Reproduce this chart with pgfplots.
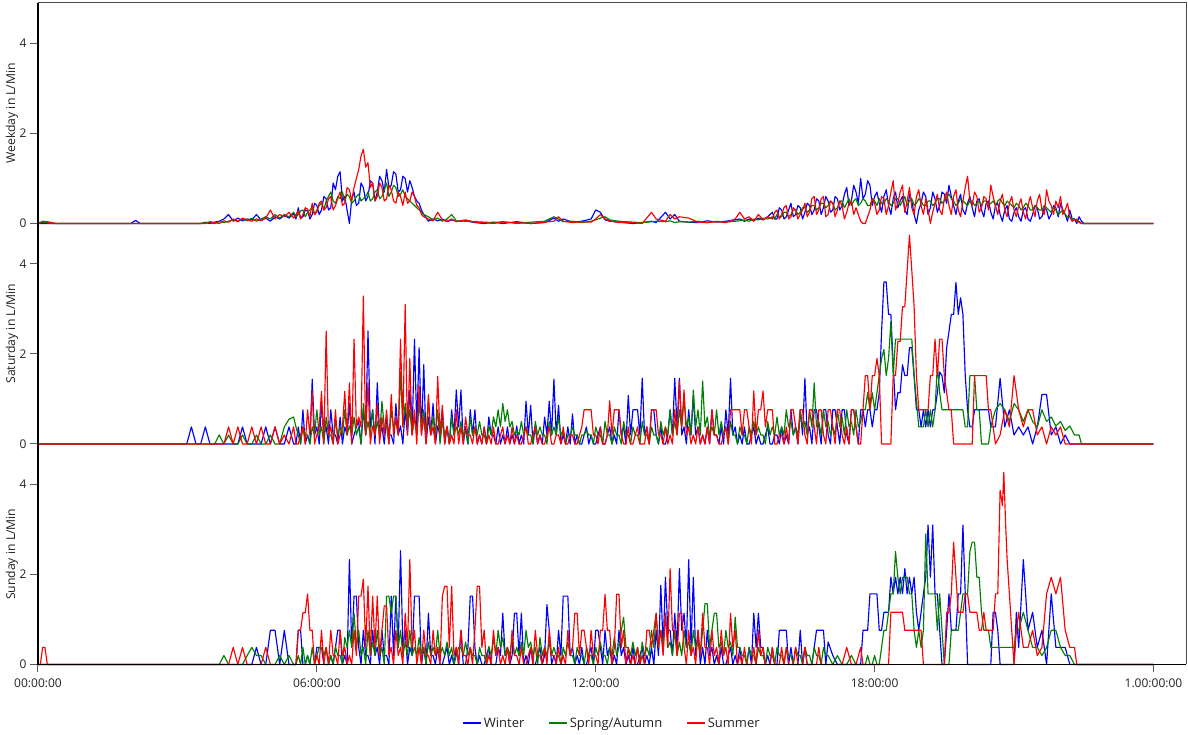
\documentclass[border=0pt]{standalone}
\usepackage{fontspec}
\setmainfont{Open Sans}
\usepackage{pgfplots}
\usepackage{pgfplotstable}
\pgfplotsset{compat=1.18}
\usepgfplotslibrary{groupplots}

\definecolor{winter}{RGB}{0,0,255}
\definecolor{spring}{RGB}{0,128,0}
\definecolor{summer}{RGB}{255,0,0}
\definecolor{txt}{RGB}{34,34,34}

% t = hour of day, w = winter, s = spring/autumn, u = summer (L/min)
\pgfplotstableread{
t w s u
0 0 0 0
0.1 0 0.03 0.05
0.2 0 0.02 0.04
0.3 0 0 0.02
0.4 0 0 0
2.0 0 0 0
2.1 0.07 0 0
2.2 0 0 0
3.5 0 0 0
3.6 0.02 0.03 0
3.7 0 0.02 0.04
3.8 0.03 0 0.02
3.9 0.05 0.04 0
4.0 0.1 0.02 0.06
4.1 0.2 0.05 0.03
4.2 0.05 0.08 0.1
4.3 0.12 0.04 0.05
4.4 0.06 0.1 0.12
4.5 0.1 0.06 0.08
4.6 0.08 0.12 0.05
4.7 0.2 0.05 0.1
4.8 0.07 0.1 0.06
4.9 0.12 0.15 0.12
5.0 0.05 0.1 0.3
5.1 0.15 0.2 0.1
5.2 0.1 0.12 0.2
5.3 0.18 0.2 0.15
5.4 0.12 0.15 0.25
5.5 0.22 0.25 0.12
5.55 0.1 0.15 0.2
5.6 0.35 0.2 0.28
5.65 0.12 0.28 0.1
5.7 0.15 0.3 0.2
5.75 0.3 0.15 0.35
5.8 0.28 0.25 0.32
5.85 0.1 0.3 0.15
5.9 0.2 0.35 0.45
5.95 0.45 0.2 0.2
6.0 0.4 0.3 0.25
6.05 0.2 0.4 0.45
6.1 0.3 0.45 0.5
6.15 0.6 0.3 0.3
6.2 0.55 0.5 0.35
6.25 0.3 0.6 0.55
6.3 0.35 0.7 0.6
6.35 0.9 0.5 0.3
6.4 0.75 0.45 0.4
6.45 1.05 0.6 0.55
6.5 1.15 0.55 0.7
6.55 0.5 0.7 0.4
6.6 0.6 0.5 0.45
6.65 0.3 0.65 0.8
6.7 0 0.6 0.75
6.75 0.55 0.45 0.5
6.8 0.7 0.5 0.8
6.85 0.4 0.6 1.0
6.9 0.45 0.65 1.2
6.95 0.9 0.5 1.5
7.0 0.8 0.55 1.65
7.05 0.5 0.6 1.25
7.1 0.6 0.7 1.35
7.15 0.95 0.5 0.8
7.2 0.9 0.55 0.9
7.25 0.5 0.7 0.5
7.3 0.7 0.75 0.6
7.35 1.05 0.55 0.9
7.4 0.95 0.6 0.8
7.45 0.7 0.75 0.5
7.5 1.2 0.9 0.55
7.55 0.8 0.6 0.85
7.6 0.85 0.7 0.75
7.65 1.15 0.85 0.5
7.7 1.1 0.8 0.45
7.75 0.7 0.6 0.7
7.8 0.75 0.65 0.6
7.85 1.05 0.75 0.4
7.9 1.0 0.6 0.7
7.95 0.7 0.55 0.45
8.0 0.95 0.5 0.5
8.05 0.8 0.45 0.7
8.1 0.6 0.4 0.6
8.15 0.5 0.35 0.4
8.2 0.45 0.3 0.35
8.25 0.3 0.25 0.2
8.3 0.2 0.2 0.15
8.4 0.05 0.15 0.1
8.5 0.1 0.08 0.06
8.6 0.06 0.12 0.25
8.7 0.1 0.05 0.08
8.8 0.04 0.1 0.05
8.9 0.08 0.2 0.1
9.0 0.05 0.06 0.04
9.2 0.06 0.05 0.08
9.4 0.02 0.04 0.03
9.6 0 0.03 0.02
9.8 0.03 0.02 0
10.0 0 0.04 0.03
10.3 0.04 0 0.02
10.6 0 0.03 0
10.9 0.02 0.05 0.03
11.1 0.12 0.15 0.05
11.2 0.05 0.1 0.15
11.3 0.1 0.04 0.05
11.5 0.03 0.05 0.02
11.7 0.05 0.02 0.04
11.9 0.1 0.05 0.03
12.0 0.3 0.08 0.1
12.1 0.25 0.12 0.2
12.2 0.08 0.15 0.1
12.3 0.05 0.08 0.06
12.5 0.03 0.05 0.02
12.8 0 0.03 0.02
13.0 0.02 0.02 0
13.2 0.05 0.04 0.25
13.3 0.02 0.05 0.1
13.5 0.25 0.04 0.05
13.6 0.1 0.06 0.2
13.7 0.2 0.02 0.1
13.8 0.05 0.04 0.15
14.0 0.03 0.03 0.12
14.2 0.02 0.05 0.03
14.4 0.06 0.02 0.02
14.6 0.03 0.05 0.04
14.8 0.05 0.03 0.02
15.0 0.08 0.05 0.1
15.1 0.1 0.06 0.25
15.2 0.05 0.08 0.1
15.3 0.1 0.05 0.15
15.4 0.06 0.1 0.05
15.5 0.12 0.08 0.2
15.6 0.08 0.12 0.08
15.7 0.15 0.1 0.15
15.8 0.25 0.15 0.1
15.85 0.1 0.1 0.25
15.9 0.1 0.2 0.3
15.95 0.35 0.15 0.1
16.0 0.3 0.15 0.2
16.05 0.1 0.25 0.35
16.1 0.15 0.25 0.4
16.15 0.3 0.15 0.1
16.2 0.45 0.2 0.15
16.25 0.15 0.3 0.35
16.3 0.2 0.3 0.3
16.35 0.4 0.2 0.1
16.4 0.35 0.25 0.2
16.45 0.1 0.35 0.3
16.5 0.25 0.35 0.45
16.55 0.45 0.25 0.15
16.6 0.4 0.3 0.25
16.65 0.2 0.4 0.55
16.7 0.3 0.4 0.6
16.75 0.55 0.3 0.2
16.8 0.5 0.35 0.3
16.85 0.2 0.45 0.55
16.9 0.35 0.45 0.6
16.95 0.6 0.35 0.15
17.0 0.5 0.4 0.2
17.05 0.25 0.5 0.5
17.1 0.3 0.45 0.45
17.15 0.6 0.3 0.15
17.2 0.55 0.35 0.3
17.25 0.3 0.5 0.5
17.3 0.4 0.5 0.4
17.35 0.65 0.35 0.1
17.4 0.8 0.45 0.25
17.45 0.4 0.55 0.45
17.5 0.5 0.4 0.5
17.55 0.85 0.5 0.2
17.6 0.7 0.55 0.35
17.65 0.45 0.4 0.2
17.7 1.0 0.45 0.05
17.75 0.55 0.55 0
17.8 0.65 0.5 0
17.85 0.95 0.4 0.15
17.9 0.85 0.4 0.3
17.95 0.4 0.55 0.55
18.0 0.6 0.5 0.45
18.05 0.7 0.4 0.2
18.1 0.45 0.55 0.3
18.15 0.25 0.45 0.6
18.2 0.6 0.45 0.55
18.25 0.75 0.55 0.2
18.3 0.4 0.5 0.4
18.35 0.2 0.4 0.7
18.4 0.55 0.45 0.95
18.45 0.7 0.55 0.3
18.5 0.35 0.55 0.45
18.55 0.5 0.4 0.7
18.6 0.6 0.5 0.85
18.65 0.3 0.6 0.25
18.7 0.2 0.4 0.5
18.75 0.65 0.5 0.8
18.8 0.5 0.55 0.35
18.85 0.2 0.4 0.2
18.9 0 0.45 0.6
18.95 0.3 0.55 0.75
19.0 0.45 0.5 0.4
19.05 0.7 0.4 0.2
19.1 0.6 0.4 0.55
19.15 0.2 0.5 0.3
19.2 0.35 0.5 0
19.25 0.7 0.4 0.25
19.3 0.55 0.45 0.45
19.35 0.25 0.55 0.65
19.4 0.4 0.55 0.3
19.45 0.7 0.45 0.2
19.5 0.65 0.5 0.55
19.55 0.45 0.6 0.7
19.6 0.85 0.65 0.4
19.65 0.6 0.55 0.2
19.7 0.4 0.5 0.6
19.75 0.2 0.4 0.75
19.8 0.5 0.45 0.3
19.85 0.65 0.55 0.15
19.9 0.3 0.5 0.5
19.95 0.2 0.45 0.8
20.0 0.45 0.4 1.05
20.05 0.6 0.5 0.5
20.1 0.35 0.5 0.4
20.15 0.15 0.4 0.7
20.2 0.5 0.45 0.6
20.25 0.55 0.5 0.25
20.3 0.3 0.4 0.35
20.35 0.15 0.5 0.6
20.4 0.45 0.5 0.55
20.45 0.5 0.4 0.3
20.5 0.25 0.45 0.85
20.55 0.1 0.5 0.6
20.6 0.4 0.4 0.4
20.65 0.45 0.5 0.2
20.7 0.2 0.55 0.5
20.75 0.05 0.45 0.65
20.8 0.3 0.4 0.3
20.85 0.4 0.5 0.15
20.9 0.1 0.45 0.45
20.95 0.05 0.4 0.6
21.0 0.25 0.35 0.3
21.05 0.35 0.45 0.15
21.1 0.15 0.4 0.4
21.15 0.05 0.3 0.55
21.2 0.3 0.35 0.25
21.25 0.35 0.45 0.1
21.3 0.1 0.4 0.4
21.35 0.05 0.3 0.6
21.4 0.2 0.3 0.35
21.45 0.4 0.4 0.15
21.5 0.35 0.35 0.5
21.55 0.1 0.3 0.65
21.6 0.15 0.3 0.3
21.65 0.35 0.4 0.2
21.7 0.3 0.35 0.75
21.75 0.1 0.3 0.5
21.8 0.2 0.25 0.4
21.85 0.4 0.35 0.2
21.9 0.35 0.3 0.5
21.95 0.15 0.2 0.35
22.0 0.45 0.25 0.6
22.05 0.3 0.3 0.2
22.1 0.2 0.2 0.3
22.15 0.05 0.15 0.45
22.2 0.3 0.15 0.15
22.25 0.1 0.1 0.05
22.3 0.1 0.1 0.08
22.35 0 0.05 0.1
22.4 0.15 0.05 0.02
22.45 0.05 0 0
22.5 0 0 0
24 0 0 0
}\weekday

\pgfplotstableread{
t w s u
0 0 0 0
3.2 0 0 0
3.3 0.38 0 0
3.4 0 0 0
3.5 0 0 0
3.6 0.38 0 0
3.7 0 0 0
3.8 0 0 0
3.9 0 0.2 0
4.0 0 0 0
4.1 0 0.2 0.38
4.2 0 0 0
4.3 0 0 0.38
4.4 0.38 0.2 0
4.5 0 0 0
4.6 0 0 0.38
4.7 0 0.2 0
4.8 0 0 0.38
4.9 0.38 0 0
5.0 0 0.2 0
5.1 0.38 0 0.38
5.2 0 0 0
5.3 0 0.38 0.2
5.4 0.38 0.55 0
5.5 0 0.6 0.38
5.55 0 0.38 0
5.6 0.38 0.2 0
5.65 0 0 0.2
5.7 0.76 0.38 0.38
5.75 0 0.2 0
5.8 0.2 0.2 0.76
5.85 0 0 0.2
5.9 1.44 0.38 1.17
5.95 0.2 0.2 0
6.0 0.38 0.76 0.2
6.05 0 0.2 0.38
6.1 0.9 0.38 1.17
6.15 0.2 0 0
6.2 0.38 0.6 2.51
6.25 0 0.2 0.2
6.3 0.76 0.2 0.38
6.35 0.2 0 0
6.4 0.2 0.5 0.76
6.45 0 0.2 0
6.5 0.6 0.38 0.2
6.55 0 0.2 0.38
6.6 0.38 0.76 1.17
6.65 0.2 0.2 0.2
6.7 0.9 0.4 1.36
6.75 0 0.2 0
6.8 0.2 0.6 2.33
6.85 0.38 0.2 0.38
6.9 0.5 0.38 0.6
6.95 0 0 0.38
7.0 0.76 0.9 3.29
7.05 0.2 0.2 0.2
7.1 2.51 0.5 1.36
7.15 0.38 0.2 0
7.2 0.76 0.76 0.4
7.25 0 0.2 0.2
7.3 1.36 0.5 0.9
7.35 0.2 0.2 0
7.4 0.38 0.95 0.6
7.45 0 0.38 0.2
7.5 0.6 0.4 0.76
7.55 0.2 0 0
7.6 0.2 0.76 1.1
7.65 0 0.38 0.2
7.7 0.9 0.5 0.6
7.75 0.2 0.2 0.2
7.8 0.4 1.6 2.33
7.85 0 0.38 0.38
7.9 0.76 0.9 3.1
7.95 0.2 0.38 0.2
8.0 1.2 0.76 1.9
8.05 0.2 0.2 0.2
8.1 2.33 0.6 0.76
8.15 0.38 0.2 0
8.2 2.14 0.9 1.3
8.25 0.2 0.38 0.2
8.3 1.76 0.76 0.6
8.35 0 0.2 0
8.4 0.6 1.0 1.1
8.45 0.2 0.2 0.2
8.5 0.9 0.6 0.38
8.55 0 0.2 0
8.6 0.4 0.76 1.5
8.65 0.2 0 0.2
8.7 0.76 0.5 0.86
8.75 0 0.2 0
8.8 0.38 0.38 0.4
8.85 0 0 0
8.9 0.76 0.6 0.2
8.95 0.2 0.2 0
9.0 1.2 0.38 0.76
9.05 0.38 0.2 0
9.1 1.2 0.5 0.38
9.15 0 0.2 0
9.2 0.38 0.3 0.6
9.25 0 0 0.2
9.3 0.76 0.6 0.2
9.35 0.2 0.2 0
9.4 0.76 0.38 0.38
9.45 0 0.2 0
9.5 0.2 0.5 0.2
9.55 0 0.2 0
9.6 0.38 0.2 0.38
9.65 0 0 0
9.7 0.6 0.4 0.2
9.75 0.2 0.2 0
9.8 0.2 0.6 0.38
9.85 0 0.38 0
9.9 0.38 0.76 0
9.95 0 0.38 0.2
10.0 0.2 0.9 0.38
10.05 0 0.5 0
10.1 0.38 0.76 0.2
10.15 0 0.38 0
10.2 0.2 0.5 0.38
10.25 0 0.2 0
10.3 0.4 0.3 0.2
10.35 0 0.2 0
10.4 0.2 0.5 0
10.45 0 0.2 0.2
10.5 0.95 0.38 0.38
10.55 0.2 0.2 0
10.6 0.86 0.2 0
10.65 0 0 0.2
10.7 0.38 0.5 0.38
10.75 0 0.2 0
10.8 0.2 0.38 0.2
10.85 0 0.2 0
10.9 0.6 0.2 0
10.95 0.2 0 0.2
11.0 0.95 0.5 0.38
11.05 0.2 0.2 0
11.1 1.44 0.38 0
11.15 0.2 0.2 0.2
11.2 0.86 0.6 0.2
11.25 0 0.2 0
11.3 0.2 0.3 0.38
11.35 0 0 0
11.4 0.38 0.2 0
11.45 0 0.2 0.2
11.5 0.67 0.38 0.2
11.55 0 0.2 0
11.6 0.2 0.2 0
11.65 0 0 0.2
11.7 0 0.2 0.38
11.75 0.2 0.2 0.76
11.8 0.38 0.3 0.76
11.85 0 0.2 0.76
11.9 0.2 0.2 0.76
11.95 0 0 0.2
12.0 0 0.38 0.2
12.05 0.2 0.2 0
12.1 0.38 0.2 0.38
12.15 0 0 0
12.2 0 0.5 0
12.25 0.2 0.2 0.2
12.3 0.38 0.2 0.96
12.35 0 0 0.2
12.4 0.2 0.38 0.76
12.45 0 0.2 0.76
12.5 0.76 0.2 0.76
12.55 0.2 0 0.2
12.6 0.38 0.5 0
12.65 0 0.2 0
12.7 1.08 0.2 0.38
12.75 0.2 0 0
12.8 0.76 0.38 0
12.85 0.76 0.2 0.2
12.9 0.76 0.2 0.38
12.95 0.2 0 0
13.0 1.46 0.5 0
13.05 0.2 0.2 0
13.1 0.38 0.2 0.38
13.15 0 0 0
13.2 0.76 0.38 0.76
13.25 0.76 0.2 0.76
13.3 0.2 0.2 0.76
13.35 0 0 0.2
13.4 0.38 0.5 0.2
13.45 0 0.2 0
13.5 0 0.38 0.38
13.55 0.2 0.2 0
13.6 0.76 0.76 0.2
13.65 0.2 0.2 0
13.7 1.46 0.5 0.76
13.75 0.38 0.2 0.2
13.8 1.46 0.76 1.4
13.85 0.2 0.38 0.38
13.9 0.38 1.0 1.2
13.95 0 0.38 0.2
14.0 0.76 0.6 0.38
14.05 0.2 0.2 0
14.1 1.06 1.2 0.2
14.15 0.2 0.38 0
14.2 0.38 0.76 0.38
14.25 0 0.2 0
14.3 0.2 1.4 0.2
14.35 0 0.38 0
14.4 0.38 0.6 0.38
14.45 0 0.2 0
14.5 0.76 0.38 0.76
14.55 0.2 0.2 0.2
14.6 0.2 0.76 0.2
14.65 0 0.2 0
14.7 0.38 0.5 0
14.75 0 0.2 0.2
14.8 0.76 0.38 0.38
14.85 0.2 0 0
14.9 1.46 0.5 0.76
14.95 0.2 0.2 0.76
15.0 0.38 0.2 0.76
15.05 0 0 0.76
15.1 0.2 0.38 0.76
15.15 0 0.2 0.2
15.2 0.38 0.2 0.76
15.25 0 0 0.76
15.3 0 0.38 0.38
15.35 0.2 0.2 0
15.4 0.38 0.5 1.18
15.45 0 0.2 0.2
15.5 0.2 0.38 0.76
15.55 0 0.2 0.76
15.6 0 0.2 1.18
15.65 0.2 0 0.38
15.7 0.38 0.5 0.76
15.75 0 0.2 0.76
15.8 0 0.38 0.76
15.85 0.2 0.2 0
15.9 0.2 0.6 0
15.95 0 0.2 0.2
16.0 0.38 0.38 0.2
16.05 0 0.2 0
16.1 0.2 0.76 0.38
16.15 0 0.38 0
16.2 0.76 0.5 0.76
16.25 0.2 0.2 0.76
16.3 0.38 0.38 0.38
16.35 0 0.2 0
16.4 0.76 0.76 0.76
16.45 0.2 0.38 0.76
16.5 1.46 0.5 0.2
16.55 0.2 0.2 0
16.6 0.38 0.76 0.76
16.65 0 0.38 0.76
16.7 0.76 1.36 0.38
16.75 0.76 0.38 0
16.8 0.38 0.5 0.76
16.85 0 0.2 0.76
16.9 0.76 0.76 0.2
16.95 0.76 0.38 0
17.0 0.2 0.5 0.76
17.05 0 0.2 0.76
17.1 0.76 0.38 0.38
17.15 0.76 0.2 0
17.2 0.38 0.76 0.76
17.25 0 0.38 0.76
17.3 0.76 0.6 0.2
17.35 0.76 0.2 0
17.4 0.2 0.76 0.38
17.45 0 0.38 0
17.5 0.76 0.5 0.76
17.55 0.76 0.2 0.76
17.6 0.38 0.76 0.38
17.65 0 0.38 0
17.7 0.76 0.5 0
17.75 0.76 0.76 0.76
17.80 0.38 0.76 1.52
17.85 0.76 1.14 1.52
17.90 0.76 0.76 0.76
17.95 0.38 1.14 1.52
18.00 0.76 0.76 1.52
18.05 0.76 1.14 1.9
18.10 1.14 1.52 1.52
18.15 2.5 1.9 0
18.20 3.6 2.1 0
18.25 3.6 1.52 0
18.30 2.88 1.9 0
18.35 2.88 2.72 0
18.40 1.76 1.52 1.52
18.45 0.76 2.33 1.52
18.50 1.14 2.33 2.28
18.55 1.14 2.33 2.28
18.60 1.76 2.33 3.05
18.65 1.52 2.33 3.05
18.70 1.52 2.33 3.86
18.75 2.14 2.33 4.64
18.80 2.14 2.33 3.86
18.85 1.5 1.52 3.05
18.90 0.76 0.96 1.52
18.95 0.76 0.38 0.76
19.00 0.38 0.38 0.76
19.05 0.76 0.38 0.76
19.10 0.38 0.76 0.76
19.15 0.76 0.38 0.76
19.20 0.38 0.76 1.52
19.25 0.76 0.38 1.52
19.30 0.76 0.76 2.33
19.35 1.14 1.76 1.52
19.40 1.6 1.14 2.33
19.45 1.52 0.76 2.33
19.50 1.14 0.76 1.52
19.55 2.14 0.76 1.14
19.60 2.5 0.76 0.76
19.65 2.88 0.76 0.76
19.70 2.88 0.76 0
19.75 3.59 0.76 0
19.80 2.88 0.76 0
19.85 3.25 0.76 0
19.90 2.88 0.76 0
19.95 1.52 0.38 0
20.00 0.76 0.38 0
20.05 0.38 1.52 0
20.10 0.38 1.52 0
20.15 0.76 1.52 1.52
20.20 0.76 0.76 1.52
20.25 0.76 0.76 1.52
20.30 0.76 0 1.52
20.35 0.76 0 1.52
20.40 0.76 0 1.52
20.45 0.76 0 0.76
20.50 0.38 0.38 0.76
20.6 0.38 0.76 0
20.7 1.46 0.9 0.2
20.8 0.38 0.76 0.76
20.9 0.76 0.5 0.38
21.0 0.2 0.9 1.52
21.1 0.38 0.76 0.76
21.2 0.2 0.5 0.38
21.3 0.38 0.76 0.76
21.4 0 0.5 0.76
21.5 0.38 0.38 0.2
21.6 1.1 0.76 0.38
21.7 1.1 0.5 0
21.8 0.2 0.6 0.38
21.9 0.38 0.4 0.2
22.0 0 0.5 0.38
22.1 0.2 0.3 0
22.2 0 0.4 0
22.3 0 0.2 0
22.4 0 0.2 0
22.45 0 0 0
24 0 0 0
}\saturday

\pgfplotstableread{
t w s u
0 0 0 0
0.05 0 0 0
0.1 0 0 0.38
0.15 0 0 0.38
0.2 0 0 0
3.9 0 0 0
4.0 0 0.2 0
4.1 0 0 0
4.2 0 0 0.38
4.3 0 0 0
4.4 0 0 0.38
4.5 0 0.2 0
4.6 0 0.38 0
4.7 0.38 0.2 0
4.8 0 0.2 0
4.9 0 0 0.38
5.0 0.76 0 0
5.1 0.76 0 0
5.2 0 0.2 0
5.3 0.76 0 0
5.4 0 0.2 0
5.5 0 0 0
5.55 0 0 0
5.6 0.76 0.2 0.76
5.65 0.76 0 0.76
5.7 0 0.38 1.15
5.75 0 0 1.15
5.8 0.2 0.2 1.57
5.85 0 0 0.76
5.9 0 0.38 0.76
5.95 0 0 0
6.0 0.38 0.2 0.2
6.05 0.38 0.38 0
6.1 0.38 0.38 0.76
6.15 0 0.2 0
6.2 0 0.38 0.38
6.25 0 0 0
6.3 0.2 0.2 0.76
6.35 0 0 0.2
6.4 0.38 0.4 0.2
6.45 0.76 0.2 0
6.5 0.76 0.2 0.76
6.55 0 0 0.2
6.6 0.2 0.6 0.38
6.65 0 0.38 0
6.7 2.33 0.76 0.2
6.75 0.38 0.38 0
6.8 1.52 1.14 0.76
6.85 1.52 0.38 0.2
6.9 0.38 0.76 1.52
6.95 0 0.2 1.52
7.0 0.76 0.38 1.9
7.05 0.2 0 0.38
7.1 0.2 0.76 1.74
7.15 0 0.2 0.2
7.2 0.76 0.5 1.52
7.25 0.2 0.2 0.38
7.3 0.38 0.76 1.52
7.35 0 0.2 0.2
7.4 0.76 0.38 0.76
7.45 0.2 0 1.3
7.5 0.2 1.52 1.3
7.55 0 1.52 0.2
7.6 1.52 1.14 0.38
7.65 0.2 1.52 0
7.7 1.52 1.52 0.76
7.75 0.38 0.38 0.2
7.8 2.53 0.76 0.38
7.85 0.38 0.2 0
7.9 0.76 0.5 1.14
7.95 0 0.2 0.38
8.0 0.38 0.76 2.33
8.05 0.2 0.2 0.38
8.1 1.52 0.38 0.76
8.15 1.52 0.2 0
8.2 1.52 0.6 0.38
8.25 0 0.2 0
8.3 0.38 0.38 0.76
8.35 0 0 0.2
8.4 1.14 0.5 0.2
8.45 0.2 0.2 0
8.5 0.2 0.38 0.76
8.55 0 0.2 0.2
8.6 0.38 0.76 0.38
8.65 0 0.2 0
8.7 0 0.38 1.52
8.75 0.2 0.2 1.74
8.8 0.38 0.5 1.74
8.85 0 0.2 0.38
8.9 0.2 0.38 1.74
8.95 0 0 0.2
9.0 0.38 0.2 0.38
9.05 0 0.38 0
9.1 0.76 0.38 0.76
9.15 0 0.2 0.2
9.2 0 0.5 0.2
9.25 0.38 0.2 0
9.3 1.52 0.38 0.38
9.35 1.52 0.2 0
9.4 0.38 0.2 0.76
9.45 0 0 1.74
9.5 0.2 0.38 1.74
9.55 0 0.2 0.38
9.6 0 0.2 0.76
9.65 0.2 0 0
9.7 0.38 0.4 0.2
9.75 0 0.2 0
9.8 0 0.6 0.76
9.85 0 0.2 0.2
9.9 0.38 0.76 0.38
9.95 0.2 0.38 0
10.0 1.14 0.6 0.2
10.05 0.2 0.2 0
10.1 0.38 0.38 0.38
10.15 0 0.2 0
10.2 0.2 0.6 0.76
10.25 1.14 0.2 0.2
10.3 1.14 0.38 0.2
10.35 0.2 0.2 0
10.4 1.14 0.5 0.38
10.45 0 0.2 0
10.5 0.2 0.76 0
10.55 0 0.38 0.2
10.6 0.38 0.5 0.38
10.65 0 0.2 0
10.7 0 0.38 0.76
10.75 0.2 0 0.2
10.8 0.38 0.6 0.2
10.85 0 0.2 0
10.9 0.2 0.38 0.38
10.95 1.33 0.2 0
11.0 0.76 0.5 0.76
11.05 0 0.2 0.2
11.1 0.2 0.38 0.2
11.15 0 0.2 0
11.2 0.76 0.2 0.38
11.25 0.2 0 0
11.3 1.52 0.38 0.2
11.35 1.52 0.2 0
11.4 1.52 0.5 0.76
11.45 0.2 0.2 0.2
11.5 0.38 0.2 0.38
11.55 0 0 1.14
11.6 0.2 0.38 1.14
11.65 0 0.2 0.2
11.7 0.38 0.2 0.76
11.75 0 0 0.76
11.8 0 0.38 0.38
11.85 0.2 0.2 0
11.9 0.38 0.2 0.76
11.95 0 0 0.2
12.0 0.76 0.38 0.2
12.05 0.76 0.2 0
12.1 0.38 0.5 0.76
12.15 0 0.2 0.76
12.2 0.76 0.2 1.56
12.25 0.2 0 0.76
12.3 0.38 0.38 0.76
12.35 0 0.2 0
12.4 0.2 0.6 0.38
12.45 0 0.2 1.56
12.5 0.76 0.38 1.56
12.55 0.2 0.76 0.38
12.6 0.38 1.05 0.76
12.65 0 0.38 0
12.7 0.2 0.38 0.38
12.75 0 0.2 0
12.8 0.38 0.5 0.2
12.85 0 0.2 0
12.9 0 0.38 0.38
12.95 0.2 0 0
13.0 0.38 0.5 0.2
13.05 0 0.2 0
13.1 0.2 0.38 0.76
13.15 0 0.2 0.76
13.2 0.38 0.76 0.38
13.25 0 0.38 0.76
13.3 0.76 1.14 1.14
13.35 0.2 0.38 0.38
13.4 1.76 0.76 0.76
13.45 0.38 0.38 0.2
13.5 1.94 1.14 1.14
13.55 0.76 0.38 0.38
13.6 0.76 0.5 2.13
13.65 0.2 0.2 0.76
13.7 1.14 0.76 0.76
13.75 0.38 0.2 0.2
13.8 2.13 0.5 1.14
13.85 0.76 0.2 1.14
13.9 1.14 0.76 0.38
13.95 0.38 0.38 0
14.0 2.33 0.5 0.76
14.05 0.38 0.2 0.2
14.1 1.94 0.76 0.38
14.15 0.2 0.38 0
14.2 0.76 0.5 0.76
14.25 0 0.2 0.2
14.3 0.38 0.76 1.14
14.35 0 1.35 0.38
14.4 0.76 1.35 0.38
14.45 0.2 0.38 0
14.5 0.38 0.76 0.76
14.55 0 1.14 0.2
14.6 0.2 1.14 0.38
14.65 0 0.38 0
14.7 0.38 0.5 0.76
14.75 0 0.2 0.2
14.8 0 0.76 0.38
14.85 0.2 0.38 0
14.9 0.38 0.5 1.14
14.95 0 0.2 0.38
15.0 0.2 1.05 0.76
15.05 0 0.38 0
15.1 0.38 0.38 0.2
15.15 0 0.2 0
15.2 0 0.2 0.38
15.25 0 0 0
15.3 0.38 0.38 0
15.35 0 0.2 0
15.4 1.14 0.2 0.38
15.45 0.38 0 0
15.5 1.14 0.38 0.76
15.55 0.38 0.2 0.2
15.6 0.38 0.2 0.38
15.65 0 0 0
15.7 0.2 0.38 0
15.75 0 0.2 0
15.8 0.38 0.2 0.38
15.85 0 0 0
15.9 0 0.38 0
15.95 0.76 0.2 0
16.0 0.76 0.2 0.38
16.05 0.76 0 0
16.1 0.76 0.38 0.38
16.15 0 0.2 0
16.2 0.38 0.2 0
16.25 0 0 0
16.3 0 0.38 0.38
16.35 0 0.2 0
16.4 0.76 0.2 0
16.45 0 0 0
16.5 0.38 0.38 0.38
16.55 0 0.2 0
16.6 0 0.2 0
16.65 0 0 0
16.7 0.38 0.38 0
16.75 0.76 0.2 0
16.8 0.76 0.2 0.38
16.85 0.76 0 0
16.9 0.76 0.38 0
16.95 0 0.2 0
17.0 0.5 0.2 0
17.1 0.2 0 0
17.2 0 0.2 0
17.3 0 0 0
17.4 0 0 0.38
17.5 0 0.2 0
17.6 0 0 0
17.7 0 0 0.38
17.75 0.76 0 0
17.80 0.76 0 0
17.85 0.76 0.2 0
17.90 1.57 0 0
17.95 1.57 0 0
18.00 1.57 0.2 0
18.05 1.57 0 0
18.10 0.76 0 0
18.15 0.76 0.38 0
18.20 1.16 0.76 0
18.25 1.16 0.76 0
18.30 1.16 1.16 0
18.35 1.94 1.57 1.16
18.40 1.57 1.57 1.16
18.45 1.94 2.51 1.16
18.50 1.57 1.94 1.16
18.55 1.94 1.57 1.16
18.60 1.57 1.94 1.16
18.65 2.13 1.94 0.76
18.70 1.57 1.94 0.76
18.75 1.94 1.57 0.76
18.80 1.57 1.57 0.76
18.85 1.94 0.76 0.76
18.90 1.16 0.38 0.76
18.95 0.76 0.76 0.76
19.00 1.16 0.38 0.76
19.05 1.57 0.76 0
19.10 1.94 2.9 0
19.15 3.1 1.57 0
19.20 1.94 1.57 0
19.25 3.1 1.57 0
19.30 1.57 1.57 0
19.35 1.57 0.76 0
19.40 0.76 1.57 0
19.45 0 0.76 0
19.50 0 0 0
19.55 0.76 0 1.16
19.60 1.57 0 1.16
19.65 0.76 0.76 1.57
19.70 0.76 0.76 2.72
19.75 0.76 0.76 1.94
19.80 1.57 0.76 1.16
19.85 1.57 1.16 1.16
19.90 3.1 1.57 1.16
19.95 1.57 1.57 1.57
20.00 0 1.57 1.57
20.05 0 2.51 1.16
20.10 0 2.72 1.16
20.15 0 2.72 1.16
20.20 0 1.94 1.16
20.25 0 1.94 0.76
20.30 0 1.16 0.76
20.35 0 0.76 1.16
20.40 0 0.76 0.76
20.45 0 0.76 0.76
20.50 0 0.38 0.76
20.55 1.16 0.38 0.76
20.60 1.16 0.38 1.57
20.65 0.76 0.38 1.57
20.70 0 0.38 3.87
20.75 0 0.38 3.53
20.78 0 0.38 4.27
20.82 0 0.38 3.09
20.85 0 0.38 2.35
20.90 0 0.38 1.57
20.95 0 0.38 0.76
21.00 0 0.38 0
21.05 1.16 0.76 0.76
21.1 0.38 0.76 1.16
21.2 2.33 1.16 0.38
21.3 0.76 0.76 0.38
21.4 1.16 0.38 0.76
21.5 0.38 0.38 0.2
21.6 0.76 0.2 0.38
21.7 0 0.38 1.57
21.8 1.57 0.76 1.94
21.9 0.38 0.76 1.57
22.0 0.38 0.38 1.94
22.1 0.38 0.2 0.76
22.2 0 0.2 0.38
22.3 0 0 0.38
22.35 0 0 0
24 0 0 0
}\sunday

\pgfplotsset{
  panel/.style={
    width=1148pt, height=220.5pt, scale only axis,
    xmin=0, xmax=24.7, ymin=0, ymax=4.9,
    ytick={0,2,4},
    axis line style={draw=none},
    tick pos=left, tick align=outside,
    major tick length=8pt,
    tick style={black!65, line width=1pt},
    every tick label/.append style={text=txt, font=\fontsize{12}{14}\selectfont},
    /pgf/number format/assume math mode=true,
    clip=false,
    every axis y label/.style={at={(axis description cs:0,0.5)}, xshift=-26pt,
      rotate=90, anchor=center, text=txt, font=\fontsize{12.2}{14}\selectfont},
    no markers,
    every axis plot/.append style={line width=1.15pt, line join=round},
  }
}

\begin{document}
\begin{tikzpicture}
\begin{groupplot}[group style={group size=1 by 3, vertical sep=0pt}, panel]
\nextgroupplot[xtick=\empty, ylabel={Weekday in L/Min}]
\addplot[winter] table[x=t,y=w] {\weekday};
\addplot[spring] table[x=t,y=s] {\weekday};
\addplot[summer] table[x=t,y=u] {\weekday};

\nextgroupplot[xtick=\empty, ylabel={Saturday in L/Min}]
\addplot[winter] table[x=t,y=w] {\saturday};
\addplot[spring] table[x=t,y=s] {\saturday};
\addplot[summer] table[x=t,y=u] {\saturday};

\nextgroupplot[ylabel={Sunday in L/Min},
  xtick={0,6,12,18,24},
  xticklabels={00:00:00,06:00:00,12:00:00,18:00:00,1.00:00:00},
  xticklabel style={yshift=-3pt},
  legend style={at={(0.5,0)}, anchor=north, yshift=-49pt, draw=none,
    legend columns=3, font=\fontsize{13}{15}\selectfont,
    /tikz/every even column/.append style={column sep=22pt}},
  legend image code/.code={\draw[#1, line width=1.5pt] (0pt,0pt) -- (18pt,0pt);}]
\addplot[winter] table[x=t,y=w] {\sunday};
\addplot[spring] table[x=t,y=s] {\sunday};
\addplot[summer] table[x=t,y=u] {\sunday};
\legend{\textcolor{txt}{Winter},\textcolor{txt}{Spring/Autumn},\textcolor{txt}{Summer}}
\end{groupplot}
\draw[black!70, line width=1pt] (group c1r1.north west) -- (group c1r1.north east) -- (group c1r3.south east);
\draw[black, line width=1.3pt] (group c1r1.north west) -- (group c1r3.south west) -- (group c1r3.south east);
\pgfresetboundingbox
\path ([shift={(-38pt,3pt)}]group c1r1.north west) rectangle ([shift={(2pt,-70.5pt)}]group c1r3.south east);
\end{tikzpicture}
\end{document}
